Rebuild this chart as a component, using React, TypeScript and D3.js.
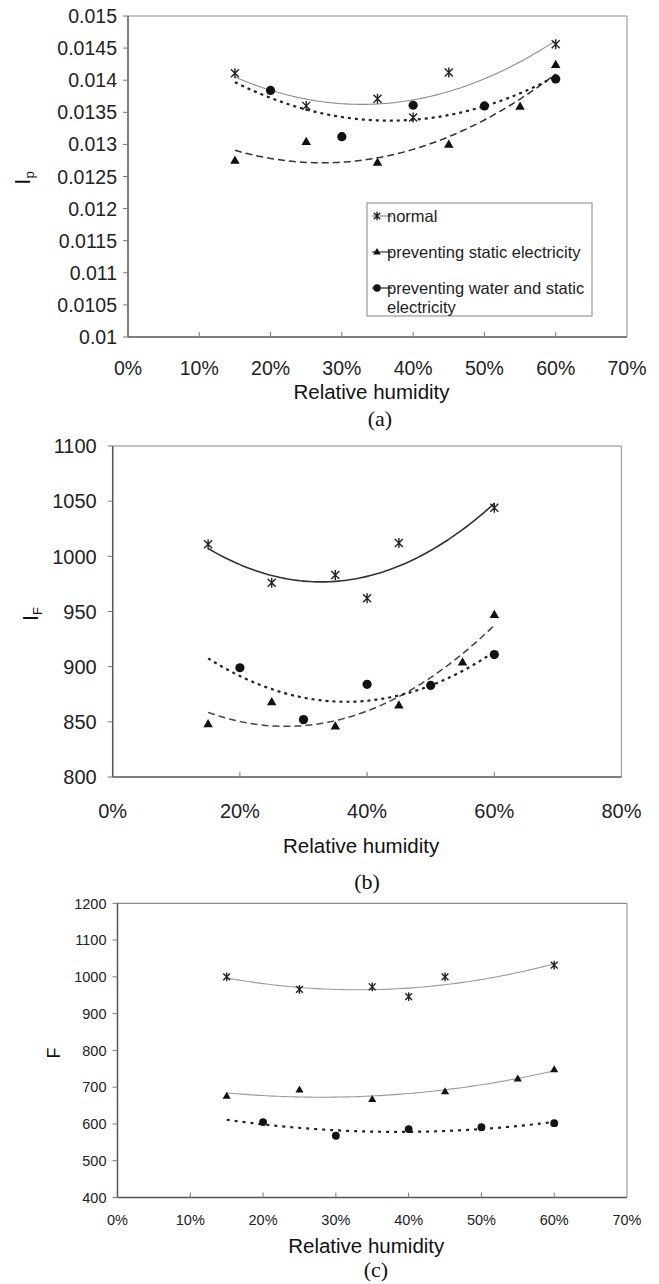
import React, { useEffect, useRef } from "react"
import * as d3 from "d3"

// relative humidity (%) at which each treatment was measured
const normalX = [15, 25, 35, 40, 45, 60]
const staticX = [15, 25, 35, 45, 55, 60]
const waterX = [20, 30, 40, 50, 60]

// (a) Ip
const ipNormal = [0.01411, 0.0136, 0.01371, 0.01342, 0.01412, 0.01456]
const ipStatic = [0.01275, 0.01304, 0.01272, 0.013, 0.01359, 0.01424]
const ipWater = [0.01384, 0.01312, 0.01361, 0.0136, 0.01402]

// (b) IF
const ifNormal = [1011, 976, 983, 962, 1012, 1044]
const ifStatic = [848, 868, 846, 865, 904, 947]
const ifWater = [899, 852, 884, 883, 911]

// (c) F
const fNormal = [1000, 966, 973, 946, 1000, 1032]
const fStatic = [676, 693, 667, 688, 723, 748]
const fWater = [605, 568, 586, 591, 602]

const ipTicks = [0.01, 0.0105, 0.011, 0.0115, 0.012, 0.0125, 0.013, 0.0135, 0.014, 0.0145, 0.015]
const ifTicks = [800, 850, 900, 950, 1000, 1050, 1100]
const fTicks = [400, 500, 600, 700, 800, 900, 1000, 1100, 1200]
const xTicks70 = [0, 10, 20, 30, 40, 50, 60, 70]
const xTicks80 = [0, 20, 40, 60, 80]

const legendLabels = ["normal", "preventing static electricity", "preventing water and static"]

const SANS = "'Liberation Sans', Arial, sans-serif"
const SERIF = "'Liberation Serif', 'Times New Roman', serif"

// least squares quadratic, like the spreadsheet's polynomial trendline
function quadFit(xs: number[], ys: number[]) {
    const s = [0, 0, 0, 0, 0]
    const t = [0, 0, 0]
    xs.forEach((x, i) => {
        for (let k = 0; k < 5; k++) s[k] += Math.pow(x, k)
        for (let k = 0; k < 3; k++) t[k] += Math.pow(x, k) * ys[i]
    })
    const m = [
        [s[0], s[1], s[2], t[0]],
        [s[1], s[2], s[3], t[1]],
        [s[2], s[3], s[4], t[2]],
    ]
    for (let c = 0; c < 3; c++) {
        for (let r = c + 1; r < 3; r++) {
            const f = m[r][c] / m[c][c]
            for (let k = c; k < 4; k++) m[r][k] -= f * m[c][k]
        }
    }
    const coef = [0, 0, 0]
    for (let r = 2; r >= 0; r--) {
        let v = m[r][3]
        for (let k = r + 1; k < 3; k++) v -= m[r][k] * coef[k]
        coef[r] = v / m[r][r]
    }
    return (x: number) => coef[0] + coef[1] * x + coef[2] * x * x
}

type Series = {
    xs: number[]
    ys: number[]
    marker: "star" | "tri" | "dot"
    stroke: string
    width: number
    dash: string | null
}

type Panel = {
    left: number
    right: number
    top: number
    bottom: number
    xMax: number
    xTicks: number[]
    yTicks: number[]
    fmt: (d: number) => string
    tickFont: number
    labelGap: number
    xLabelY: number
    series: Series[]
    yLabel: string
    ySub: string
    yLabelX: number
    yLabelY: number
    yLabelFont: number
    titleY: number
    captionY: number
    captionX: number
    caption: string
    markerScale: number
}

function drawMarker(g: any, kind: string, x: number, y: number, k: number) {
    if (kind === "star") {
        const r = 4 * k
        g.append("path")
            .attr("d", `M${x - r},${y - r}L${x + r},${y + r}M${x - r},${y + r}L${x + r},${y - r}M${x},${y - r - 1}L${x},${y + r + 1}`)
            .attr("stroke", "#222")
            .attr("stroke-width", 1.4)
            .attr("fill", "none")
    } else if (kind === "tri") {
        const r = 5 * k
        g.append("path")
            .attr("d", `M${x},${y - r}L${x + r * 0.95},${y + r * 0.65}L${x - r * 0.95},${y + r * 0.65}Z`)
            .attr("fill", "#111")
    } else {
        g.append("circle").attr("cx", x).attr("cy", y).attr("r", 4.6 * k).attr("fill", "#111")
    }
}

function drawPanel(svg: any, p: Panel) {
    const x = d3.scaleLinear().domain([0, p.xMax]).range([p.left, p.right])
    const y = d3.scaleLinear().domain([p.yTicks[0], p.yTicks[p.yTicks.length - 1]]).range([p.bottom, p.top])
    const g = svg.append("g")

    // frame
    g.append("line").attr("x1", p.left).attr("x2", p.right).attr("y1", p.top).attr("y2", p.top).attr("stroke", "#8a8a8a").attr("stroke-width", 1.2)
    g.append("line").attr("x1", p.right).attr("x2", p.right).attr("y1", p.top).attr("y2", p.bottom).attr("stroke", "#a0a0a0").attr("stroke-width", 1.2)
    g.append("line").attr("x1", p.left).attr("x2", p.left).attr("y1", p.top).attr("y2", p.bottom).attr("stroke", "#555").attr("stroke-width", 1.5)
    g.append("line").attr("x1", p.left).attr("x2", p.right).attr("y1", p.bottom).attr("y2", p.bottom).attr("stroke", "#555").attr("stroke-width", 1.5)

    // y ticks outside
    p.yTicks.forEach(t => {
        g.append("line").attr("x1", p.left - 5).attr("x2", p.left).attr("y1", y(t)).attr("y2", y(t)).attr("stroke", "#777")
        g.append("text")
            .attr("x", p.left - p.labelGap)
            .attr("y", y(t))
            .attr("dy", "0.36em")
            .attr("text-anchor", "end")
            .attr("font-family", SANS)
            .attr("font-size", p.tickFont)
            .attr("fill", "#222")
            .text(p.fmt(t))
    })

    // x ticks inside
    p.xTicks.forEach(t => {
        if (t > 0 && t < p.xMax) {
            g.append("line").attr("x1", x(t)).attr("x2", x(t)).attr("y1", p.bottom - 5).attr("y2", p.bottom).attr("stroke", "#777")
        }
        g.append("text")
            .attr("x", x(t))
            .attr("y", p.xLabelY)
            .attr("text-anchor", "middle")
            .attr("font-family", SANS)
            .attr("font-size", p.tickFont)
            .attr("fill", "#222")
            .text(t + "%")
    })

    // trend curves
    const line = d3.line<number>().x(d => x(d[0])).y(d => y(d[1])).curve(d3.curveLinear)
    p.series.forEach(s => {
        const f = quadFit(s.xs, s.ys)
        const pts = d3.range(15, 60.01, 0.5).map(v => [v, f(v)])
        g.append("path")
            .attr("d", line(pts as any))
            .attr("fill", "none")
            .attr("stroke", s.stroke)
            .attr("stroke-width", s.width)
            .attr("stroke-dasharray", s.dash)
    })
    p.series.forEach(s => {
        s.xs.forEach((v, i) => drawMarker(g, s.marker, x(v), y(s.ys[i]), p.markerScale))
    })

    // axis title
    g.append("text")
        .attr("x", (p.left + p.right) / 2 - 6)
        .attr("y", p.titleY)
        .attr("text-anchor", "middle")
        .attr("font-family", SANS)
        .attr("font-size", 20.5)
        .attr("fill", "#111")
        .text("Relative humidity")

    const yl = g.append("text")
        .attr("transform", `translate(${p.yLabelX},${p.yLabelY}) rotate(-90)`)
        .attr("text-anchor", "middle")
        .attr("font-family", SANS)
        .attr("font-size", p.yLabelFont)
        .attr("fill", "#111")
    yl.append("tspan").text(p.yLabel)
    if (p.ySub) yl.append("tspan").attr("font-size", p.yLabelFont * 0.6).attr("dy", "0.3em").text(p.ySub)

    g.append("text")
        .attr("x", p.captionX)
        .attr("y", p.captionY)
        .attr("text-anchor", "middle")
        .attr("font-family", SERIF)
        .attr("font-size", 22)
        .attr("fill", "#111")
        .text(p.caption)
}

const App = () => {
    const ref = useRef<SVGSVGElement>(null)

    useEffect(() => {
        const svg = d3.select(ref.current)
        svg.selectAll("*").remove()

        const panelA: Panel = {
            left: 128, right: 627, top: 16, bottom: 337, xMax: 70,
            xTicks: xTicks70, yTicks: ipTicks,
            fmt: d => String(+d.toFixed(4)), tickFont: 19.5, labelGap: 11, xLabelY: 375,
            series: [
                { xs: normalX, ys: ipNormal, marker: "star", stroke: "#8c8c8c", width: 1.1, dash: null },
                { xs: staticX, ys: ipStatic, marker: "tri", stroke: "#333", width: 1.5, dash: "7,4" },
                { xs: waterX, ys: ipWater, marker: "dot", stroke: "#222", width: 2.2, dash: "3,4" },
            ],
            yLabel: "I", ySub: "p", yLabelX: 30, yLabelY: 178, yLabelFont: 22,
            titleY: 399, captionX: 380, captionY: 426, caption: "(a)", markerScale: 1,
        }
        const panelB: Panel = {
            left: 112.7, right: 621.5, top: 446, bottom: 777, xMax: 80,
            xTicks: xTicks80, yTicks: ifTicks,
            fmt: d => String(d), tickFont: 20, labelGap: 16, xLabelY: 818,
            series: [
                { xs: normalX, ys: ifNormal, marker: "star", stroke: "#333", width: 1.6, dash: null },
                { xs: staticX, ys: ifStatic, marker: "tri", stroke: "#444", width: 1.5, dash: "7,4" },
                { xs: waterX, ys: ifWater, marker: "dot", stroke: "#222", width: 2.2, dash: "3,4" },
            ],
            yLabel: "I", ySub: "F", yLabelX: 38, yLabelY: 614, yLabelFont: 22,
            titleY: 853, captionX: 367, captionY: 889, caption: "(b)", markerScale: 1,
        }
        const panelC: Panel = {
            left: 117.5, right: 627, top: 903.3, bottom: 1197.5, xMax: 70,
            xTicks: xTicks70, yTicks: fTicks,
            fmt: d => String(d), tickFont: 14.5, labelGap: 11, xLabelY: 1225,
            series: [
                { xs: normalX, ys: fNormal, marker: "star", stroke: "#9a9a9a", width: 1.1, dash: null },
                { xs: staticX, ys: fStatic, marker: "tri", stroke: "#9a9a9a", width: 1.1, dash: null },
                { xs: waterX, ys: fWater, marker: "dot", stroke: "#222", width: 2.2, dash: "3,5" },
            ],
            yLabel: "F", ySub: "", yLabelX: 60, yLabelY: 1053, yLabelFont: 18,
            titleY: 1253, captionX: 376, captionY: 1277, caption: "(c)", markerScale: 0.85,
        }
        ;[panelA, panelB, panelC].forEach(p => drawPanel(svg, p))

        // legend of panel (a)
        const lg = svg.append("g")
        lg.append("rect").attr("x", 367).attr("y", 203).attr("width", 225).attr("height", 113)
            .attr("fill", "white").attr("stroke", "#999").attr("stroke-width", 1.2)
        const rows = [216, 252, 288]
        const kinds = ["star", "tri", "dot"]
        const colors = ["#8c8c8c", "#333", "#222"]
        legendLabels.forEach((lab, i) => {
            lg.append("line").attr("x1", 372).attr("x2", 392).attr("y1", rows[i]).attr("y2", rows[i])
                .attr("stroke", colors[i]).attr("stroke-width", 1.2)
            drawMarker(lg, kinds[i], 377, rows[i], 0.8)
            lg.append("text").attr("x", 387).attr("y", rows[i]).attr("dy", "0.35em")
                .attr("font-family", SANS).attr("font-size", 16.5).attr("fill", "#222").text(lab)
        })
        lg.append("text").attr("x", 387).attr("y", 307).attr("dy", "0.35em")
            .attr("font-family", SANS).attr("font-size", 16.5).attr("fill", "#222").text("electricity")
    }, [])

    return (
        <svg ref={ref} width={659} height={1284}
            style={{ position: "absolute", left: 0, top: 0, background: "white" }} />
    )
}

export default App
